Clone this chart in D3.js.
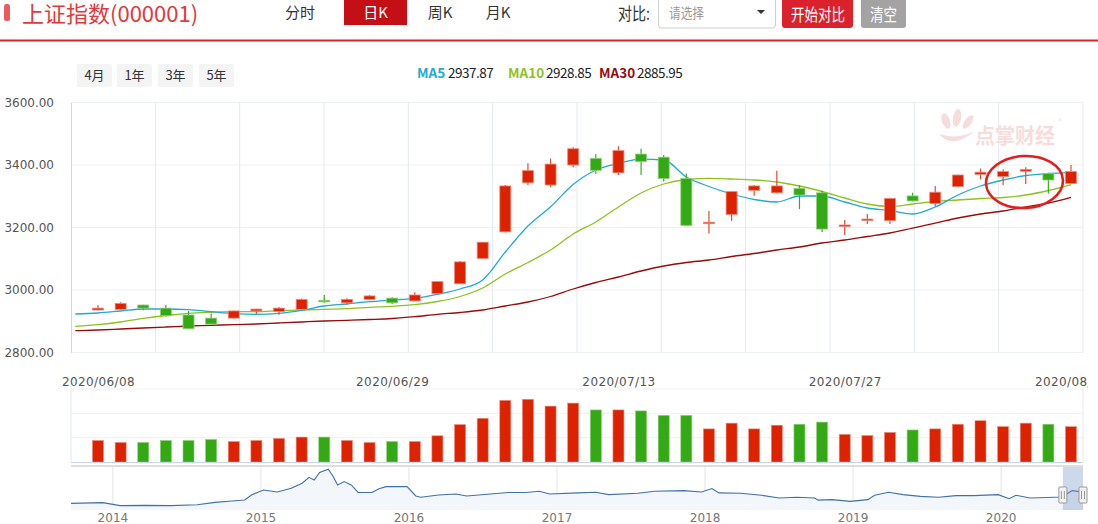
<!DOCTYPE html>
<html><head><meta charset="utf-8">
<script src="https://cdn.jsdelivr.net/npm/d3@7"></script>
<style>
body{margin:0;background:#fff;}
svg{display:block;font-family:"Noto Sans CJK SC","Noto Sans",sans-serif;}
</style></head><body>
<svg id="c" width="1098" height="524"></svg>
<script>
// ---------- data ----------
const dates = ["2020/06/08","2020/06/09","2020/06/10","2020/06/11","2020/06/12","2020/06/15","2020/06/16","2020/06/17","2020/06/18","2020/06/19",
"2020/06/22","2020/06/23","2020/06/24","2020/06/29","2020/06/30","2020/07/01","2020/07/02","2020/07/03","2020/07/06","2020/07/07",
"2020/07/08","2020/07/09","2020/07/10","2020/07/13","2020/07/14","2020/07/15","2020/07/16","2020/07/17","2020/07/20","2020/07/21",
"2020/07/22","2020/07/23","2020/07/24","2020/07/27","2020/07/28","2020/07/29","2020/07/30","2020/07/31","2020/08/03","2020/08/04",
"2020/08/05","2020/08/06","2020/08/07","2020/08/10"];
const opens  = [2936,2938,2952,2942,2920,2910,2910,2933,2931,2938,2967,2959,2970,2974,2965,2988,3020,3101,3186,3343,3336,3400,3421,3375,3435,3425,3357,3215,3242,3319,3311,3325,3311,3205,3225,3222,3301,3277,3331,3370,3363,3380,3373,3341];
const highs  = [2952,2961,2953,2952,2933,2925,2934,2940,2946,2973,2984,2974,2984,2977,2993,3028,3093,3154,3336,3406,3421,3457,3435,3460,3452,3432,3373,3253,3316,3336,3382,3336,3318,3224,3243,3295,3311,3333,3369,3389,3386,3393,3375,3400];
const lows   = [2935,2937,2935,2915,2876,2891,2909,2923,2921,2937,2959,2953,2969,2955,2964,2986,3019,3100,3184,3336,3329,3393,3371,3368,3368,3347,3205,3181,3221,3302,3310,3259,3186,3176,3211,3211,3283,3267,3329,3354,3336,3339,3309,3340];
const closes = [2942,2957,2942,2918,2876,2891,2933,2939,2942,2970,2965,2970,2981,2959,2984,3027,3090,3153,3333,3382,3403,3452,3383,3446,3411,3357,3207,3217,3315,3333,3333,3304,3195,3208,3227,3293,3285,3313,3368,3377,3379,3386,3352,3379];
const volumes = [2210,2000,2000,2210,2210,2310,2100,2210,2420,2560,2560,2210,2000,2100,2100,2690,3840,4490,6330,6440,5740,6050,5350,5350,5250,4790,4790,3400,3990,3400,3780,3880,4100,2830,2720,3040,3290,3400,3880,4240,3630,3990,3880,3630];
// moving averages, first value = trading day before 2020/06/08
const ma5  = [2923.2,2926.4,2932.8,2939.2,2939.2,2937,2930.6,2924.2,2922.2,2925.4,2935,2948.8,2955.2,2962.6,2968,2973.4,2986.2,3003.2,3032,3121.6,3204.8,3266.6,3337.6,3384,3404.8,3418.6,3416,3361.6,3331.2,3307.2,3289.6,3281.6,3300.8,3300.8,3281.6,3262.4,3254.4,3243.2,3265.6,3304,3332.8,3352,3366.4,3372.8,3375.4];
const ma10 = [2883.8,2889,2897.6,2909.4,2917.8,2925.4,2928.6,2930.6,2930.6,2933.8,2936,2938.2,2940.2,2944.6,2947.8,2953,2963.2,2979.2,3006.4,3051.2,3088,3128,3179.2,3217.6,3265.6,3310.4,3339.2,3353.6,3357.4,3355.2,3352,3345.6,3332.8,3315.2,3294.4,3275.2,3267.2,3275.2,3283.2,3288,3292.8,3296,3304,3318.4,3337.6];
const ma30 = [2869.8,2872,2875.2,2878.4,2881.6,2884.8,2887,2889.3,2891.2,2894.4,2897.6,2900.8,2903,2905.6,2908.8,2914.6,2922.2,2928,2936,2948.8,2961.6,2979.2,3003.2,3024,3041.6,3060.8,3076.8,3088,3096,3107.2,3116.8,3128,3137.6,3150.4,3160,3171.2,3182.4,3198,3214,3230.4,3243.2,3252.8,3265.6,3278.4,3296.6];
const legendItems = [{name:"MA5", value:"2937.87"},{name:"MA10", value:"2928.85"},{name:"MA30", value:"2885.95"}];
const priceTicks = [2800,3000,3200,3400,3600];
const dateTickIdx = [0,13,23,33,43];
const navYears = [2013.717,2013.93,2014.05,2014.215,2014.39,2014.57,2014.69,2014.805,2014.89,2014.936,2015.017,2015.11,2015.205,2015.278,2015.325,2015.36,2015.396,2015.455,2015.486,2015.518,2015.562,2015.61,2015.656,2015.75,2015.798,2015.845,2015.987,2016.046,2016.08,2016.2,2016.317,2016.39,2016.55,2016.67,2016.79,2016.88,2016.95,2017.14,2017.26,2017.35,2017.546,2017.66,2017.857,2017.976,2018.047,2018.094,2018.24,2018.38,2018.5,2018.62,2018.74,2018.764,2018.86,2018.98,2019.1,2019.145,2019.24,2019.337,2019.455,2019.576,2019.696,2019.815,2019.98,2020.054,2020.1,2020.195,2020.41,2020.48,2020.553];
const navValues = [2190,2257,1990,2015,1990,2073,2282,2399,2491,2925,3368,3192,3510,3952,4478,4244,4896,5180,4595,3810,4103,3810,3159,3142,3476,3660,3660,2842,2725,2925,3017,2842,3017,3142,3142,3251,3017,3109,3167,2959,3076,3251,3309,3192,3493,3109,3076,2900,2658,2725,2658,2474,2516,2366,2516,2900,3167,2959,2808,2725,2867,2867,2959,2600,2900,2658,2750,3309,3192];
const navYearTicks = [2014,2015,2016,2017,2018,2019,2020];
const navSelStart = 2020.417;
const tabs = ["分时","日K","周K","月K"];
const ranges = ["4月","1年","3年","5年"];

// ---------- styles ----------
const RED = "#dd2200", GREEN = "#33a914";
const RED_EDGE = "#ee8a7a", GREEN_EDGE = "#8fce78";
const C5 = "#22a9d4", C10 = "#8dc21f", C30 = "#990b0b";

const svg = d3.select("#c");

// ---------- header ----------
svg.append("rect").attr("x",4).attr("y",4).attr("width",6).attr("height",17).attr("rx",2.5).attr("fill","#ee5a5a");
svg.append("text").attr("x",22).attr("y",22).attr("font-size",22).attr("fill","#e03a3c").text("上证指数(000001)");

const tabX = [300,375.5,440,498];
svg.append("rect").attr("x",344).attr("y",0).attr("width",63).attr("height",25).attr("fill","#c40f16");
tabs.forEach((t,i)=>{
  svg.append("text").attr("x",tabX[i]).attr("y",18).attr("text-anchor","middle").attr("font-size",15)
    .attr("fill", i===1?"#fff":"#333").text(t);
});
svg.append("text").attr("x",618).attr("y",20).attr("font-size",17).attr("fill","#333")
  .attr("textLength",32).attr("lengthAdjust","spacingAndGlyphs").text("对比:");
svg.append("rect").attr("x",658.5).attr("y",-4).attr("width",117).attr("height",32).attr("rx",3)
  .attr("fill","#fff").attr("stroke","#cfcfcf");
svg.append("text").attr("x",669).attr("y",18).attr("font-size",14).attr("fill","#9a9a9a")
  .attr("textLength",35).attr("lengthAdjust","spacingAndGlyphs").text("请选择");
svg.append("path").attr("d","M757,10 L765,10 L761,14 Z").attr("fill","#333");
svg.append("rect").attr("x",782).attr("y",-4).attr("width",71).attr("height",32).attr("rx",3).attr("fill","#da222c");
svg.append("text").attr("x",791).attr("y",20.5).attr("font-size",17).attr("fill","#fff")
  .attr("textLength",54).attr("lengthAdjust","spacingAndGlyphs").text("开始对比");
svg.append("rect").attr("x",861).attr("y",-4).attr("width",45).attr("height",32).attr("rx",3).attr("fill","#a3a3a3");
svg.append("text").attr("x",870).attr("y",20.5).attr("font-size",17).attr("fill","#fff")
  .attr("textLength",27).attr("lengthAdjust","spacingAndGlyphs").text("清空");
svg.append("rect").attr("x",0).attr("y",39.5).attr("width",1098).attr("height",2).attr("fill","#d8222a");

// range buttons
const rangeX = [77,117,158,199];
ranges.forEach((r,i)=>{
  svg.append("rect").attr("x",rangeX[i]).attr("y",64).attr("width",35).attr("height",23).attr("rx",2).attr("fill","#f4f4f4");
  svg.append("text").attr("x",rangeX[i]+17.5).attr("y",80).attr("text-anchor","middle").attr("font-size",13).attr("fill","#333").text(r);
});

// legend
const legColors = [C5,C10,C30];
const legNameX = [417,508,599], legValX=[448,546,637];
legendItems.forEach((d,i)=>{
  svg.append("text").attr("x",legNameX[i]).attr("y",78).attr("font-size",13.5).attr("font-weight","bold")
    .attr("fill",legColors[i]).text(d.name);
  svg.append("text").attr("x",legValX[i]).attr("y",78).attr("font-size",13.5).attr("fill","#222")
    .attr("letter-spacing",-0.5).text(d.value);
});

// ---------- main chart ----------
const L = 71, R = 1083, T = 102.5, B = 352.5;
const x = d3.scaleLinear().domain([0,43]).range([98,1071]);
const y = d3.scaleLinear().domain([2800,3600]).range([B,T]);
const gridX = d3.scaleLinear().domain([0,12]).range([L,R]);

const grid = svg.append("g");
grid.selectAll("line.h").data(priceTicks).join("line").attr("class","h")
  .attr("x1",L).attr("x2",R).attr("y1",d=>y(d)).attr("y2",d=>y(d)).attr("stroke","#edf0f5");
grid.selectAll("line.v").data(d3.range(1,13)).join("line").attr("class","v")
  .attr("x1",d=>gridX(d)).attr("x2",d=>gridX(d)).attr("y1",T).attr("y2",B).attr("stroke","#e3e9f2");

const yAxis = svg.append("g").attr("transform",`translate(${L},0)`)
  .call(d3.axisLeft(y).tickValues(priceTicks).tickFormat(d3.format(".2f")).tickSize(0).tickPadding(17));
yAxis.select(".domain").attr("stroke","#c8d7ea");
yAxis.selectAll("text").attr("font-family","DejaVu Sans").attr("font-size",12).attr("fill","#555");

// watermark
const wm = svg.append("g").attr("fill","#f7dcdc");
wm.append("ellipse").attr("cx",946).attr("cy",121).attr("rx",4).attr("ry",8).attr("transform","rotate(-20 946 121)");
wm.append("ellipse").attr("cx",957).attr("cy",118).attr("rx",4).attr("ry",9).attr("transform","rotate(10 957 118)");
wm.append("ellipse").attr("cx",968).attr("cy",122).attr("rx",3.5).attr("ry",8).attr("transform","rotate(35 968 122)");
wm.append("path").attr("d","M939,134 Q952,150 975,131 Q958,140 939,134 Z");
wm.append("text").attr("x",975).attr("y",143).attr("font-size",21).attr("font-weight","bold")
  .attr("textLength",80).attr("lengthAdjust","spacingAndGlyphs").text("点掌财经");
wm.append("text").attr("x",1058).attr("y",124).attr("font-size",8).text("®");

// clip
svg.append("clipPath").attr("id","plot").append("rect").attr("x",L).attr("y",T-5).attr("width",R-L).attr("height",B-T+5);

// MA lines
const maSeries = [{v:ma30,c:C30},{v:ma10,c:C10},{v:ma5,c:C5}];
const line = d3.line().x((d,i)=>x(i-1)).y(d=>y(d)).curve(d3.curveMonotoneX);
svg.append("g").attr("clip-path","url(#plot)").selectAll("path").data(maSeries).join("path")
  .attr("d",d=>line(d.v)).attr("fill","none").attr("stroke",d=>d.c).attr("stroke-width",1.3);

// candles
const bw = 11;
const candles = svg.append("g").selectAll("g").data(d3.range(dates.length)).join("g");
const up = i => closes[i] >= opens[i];
candles.append("line").attr("x1",i=>x(i)).attr("x2",i=>x(i))
  .attr("y1",i=>y(highs[i])).attr("y2",i=>y(lows[i]))
  .attr("stroke",i=>up(i)?"#e44a30":"#3aac1c").attr("stroke-width",1.2);
candles.append("rect").attr("x",i=>x(i)-bw/2)
  .attr("y",i=>y(Math.max(opens[i],closes[i])))
  .attr("width",bw)
  .attr("height",i=>Math.max(1.5, Math.abs(y(opens[i])-y(closes[i]))))
  .attr("fill",i=>up(i)?RED:GREEN).attr("stroke",i=>up(i)?RED_EDGE:GREEN_EDGE).attr("stroke-width",0.8);

// annotation ellipse
svg.append("ellipse").attr("cx",1024.5).attr("cy",182).attr("rx",38.5).attr("ry",26)
  .attr("fill","none").attr("stroke","#e41d1d").attr("stroke-width",2.6)
  .attr("transform","rotate(-3 1024.5 182)");

// date labels
svg.append("clipPath").attr("id","dclip").append("rect").attr("x",0).attr("y",360).attr("width",1088).attr("height",40);
const xAxis = svg.append("g").attr("clip-path","url(#dclip)").append("g").attr("transform","translate(0,386)")
  .call(d3.axisBottom(x).tickValues(dateTickIdx).tickFormat(i=>dates[i]).tickSize(0));
xAxis.select(".domain").remove();
xAxis.selectAll("text").attr("y",0).attr("dy",0).attr("font-family","DejaVu Sans").attr("font-size",12)
  .attr("letter-spacing",0.4).attr("fill","#555");

// ---------- volume ----------
const VT = 389, VB = 462;
const vy = d3.scaleLinear().domain([0,7500]).range([VB,VT]);
const vg = svg.append("g");
vg.selectAll("line.g").data([VT, VT+(VB-VT)/3, VT+2*(VB-VT)/3]).join("line").attr("class","g")
  .attr("x1",L).attr("x2",R).attr("y1",d=>d).attr("y2",d=>d).attr("stroke","#eef1f5");
vg.append("line").attr("x1",L).attr("x2",L).attr("y1",VT).attr("y2",VB).attr("stroke","#dfe7f1");
vg.append("line").attr("x1",R).attr("x2",R).attr("y1",VT).attr("y2",VB).attr("stroke","#e6ebf2");
vg.selectAll("rect").data(volumes).join("rect")
  .attr("x",(d,i)=>x(i)-bw/2).attr("y",d=>vy(d)).attr("width",bw).attr("height",d=>VB-vy(d))
  .attr("fill",(d,i)=>up(i)?RED:GREEN).attr("stroke",(d,i)=>up(i)?RED_EDGE:GREEN_EDGE).attr("stroke-width",0.6);
vg.append("line").attr("x1",L).attr("x2",R).attr("y1",VB+0.5).attr("y2",VB+0.5).attr("stroke","#c8d7ea");

// ---------- navigator ----------
const NT = 467, NB = 510;
const nx = d3.scaleLinear().domain([2013.717,2020.553]).range([L,R]);
const ny = d3.scaleLinear().domain([1610,5380]).range([NB,NT]);
svg.append("rect").attr("x",L).attr("y",465).attr("width",R-L).attr("height",2).attr("fill","#dedede");
const ng = svg.append("g");
ng.selectAll("line").data(navYearTicks).join("line")
  .attr("x1",d=>nx(d)).attr("x2",d=>nx(d)).attr("y1",NT).attr("y2",NB).attr("stroke","#e4e4e4");
const navData = d3.zip(navYears, navValues);
ng.append("path").attr("d", d3.area().x(d=>nx(d[0])).y0(NB).y1(d=>ny(d[1]))(navData)).attr("fill","#f3f6fb");
ng.append("path").attr("d", d3.line().x(d=>nx(d[0])).y(d=>ny(d[1]))(navData))
  .attr("fill","none").attr("stroke","#4170ad").attr("stroke-width",1.1);
ng.append("rect").attr("x",nx(navSelStart)).attr("y",NT).attr("width",R-nx(navSelStart)).attr("height",NB-NT)
  .attr("fill","rgba(102,133,194,0.32)");
[nx(navSelStart), R].forEach(hx=>{
  ng.append("rect").attr("x",hx-4).attr("y",487).attr("width",8).attr("height",16).attr("rx",1)
    .attr("fill","#f2f2f2").attr("stroke","#999");
  ng.append("line").attr("x1",hx-1.5).attr("x2",hx-1.5).attr("y1",491).attr("y2",499).attr("stroke","#999");
  ng.append("line").attr("x1",hx+1.5).attr("x2",hx+1.5).attr("y1",491).attr("y2",499).attr("stroke","#999");
});
ng.selectAll("text").data(navYearTicks).join("text")
  .attr("x",d=>nx(d)).attr("y",522).attr("text-anchor","middle").attr("font-family","DejaVu Sans")
  .attr("font-size",12).attr("fill","#777").text(d=>d);
</script>
</body></html>
